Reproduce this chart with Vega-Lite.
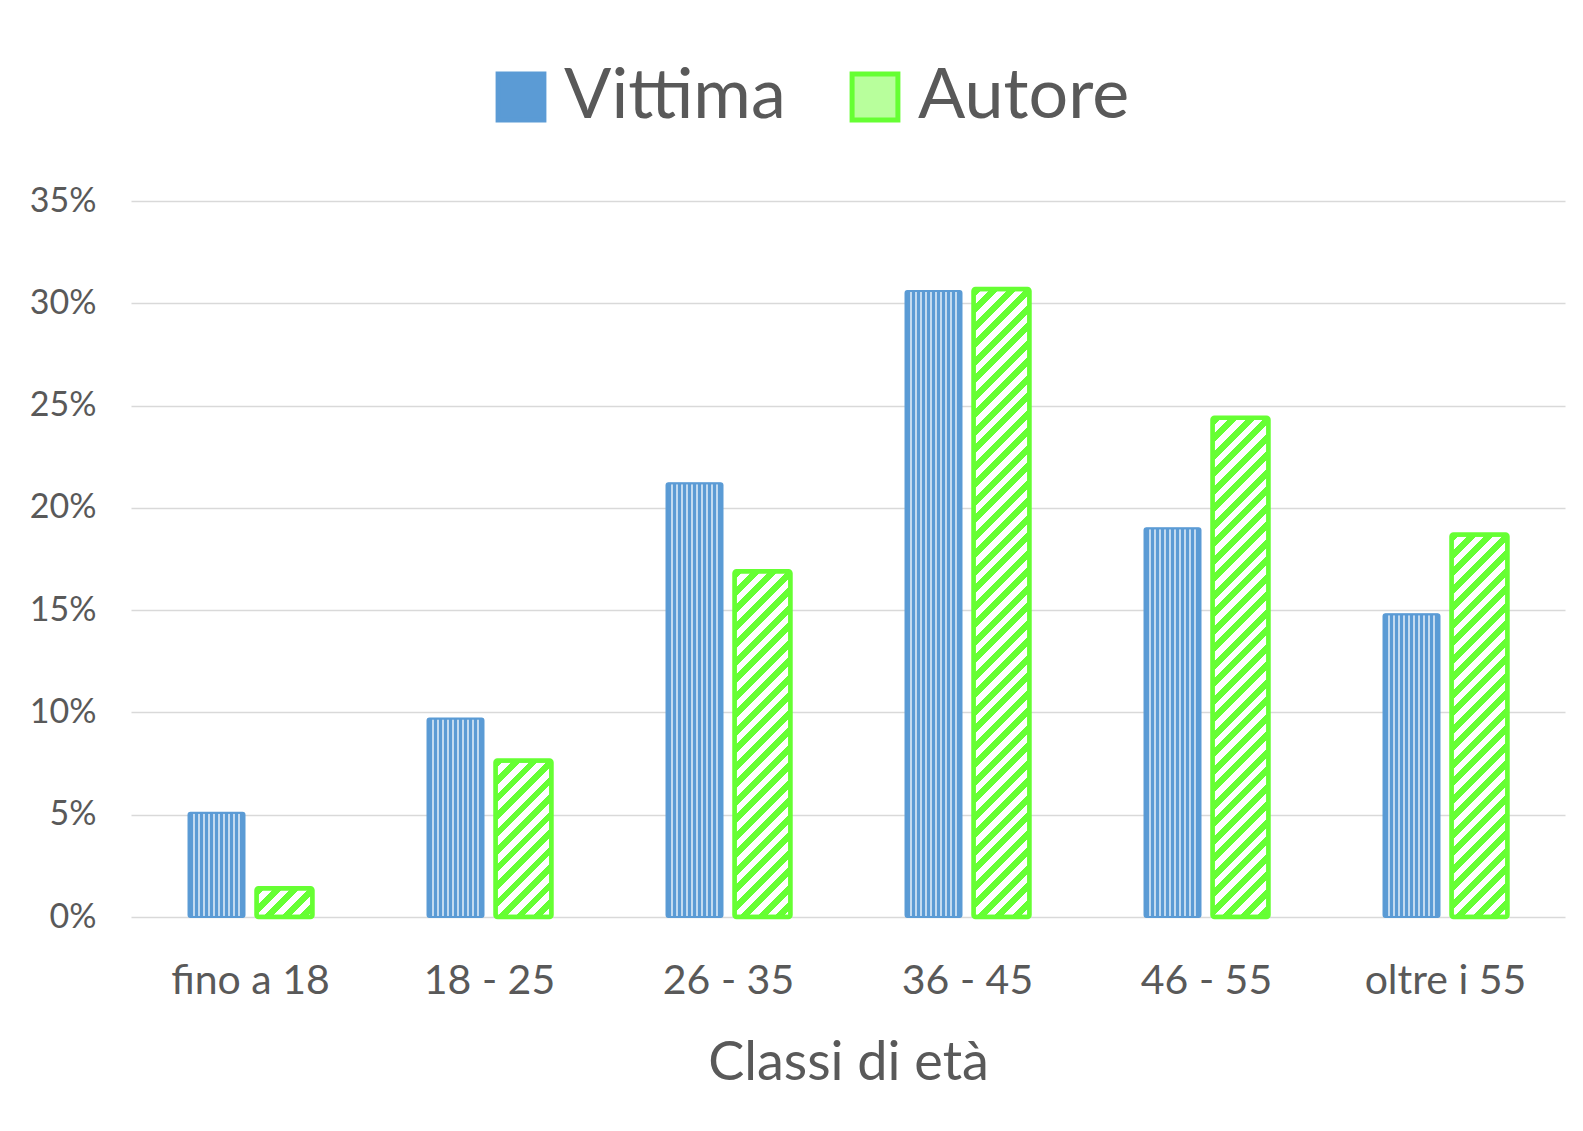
{
  "$schema": "https://vega.github.io/schema/vega-lite/v6.json",
  "width": 1434,
  "height": 716,
  "autosize": {"type": "none"},
  "padding": {"left": 131, "top": 201, "right": 18, "bottom": 214},
  "background": "white",
  "config": {"view": {"stroke": null}, "font": "Lato"},
  "params": [
    {"name": "gstops", "value": [
      {"offset":0,"color":"#66ff33"},{"offset":0.0125,"color":"#66ff33"},{"offset":0.0125,"color":"#ffffff"},{"offset":0.025,"color":"#ffffff"},
      {"offset":0.025,"color":"#66ff33"},{"offset":0.0375,"color":"#66ff33"},{"offset":0.0375,"color":"#ffffff"},{"offset":0.05,"color":"#ffffff"},
      {"offset":0.05,"color":"#66ff33"},{"offset":0.0625,"color":"#66ff33"},{"offset":0.0625,"color":"#ffffff"},{"offset":0.075,"color":"#ffffff"},
      {"offset":0.075,"color":"#66ff33"},{"offset":0.0875,"color":"#66ff33"},{"offset":0.0875,"color":"#ffffff"},{"offset":0.1,"color":"#ffffff"},
      {"offset":0.1,"color":"#66ff33"},{"offset":0.1125,"color":"#66ff33"},{"offset":0.1125,"color":"#ffffff"},{"offset":0.125,"color":"#ffffff"},
      {"offset":0.125,"color":"#66ff33"},{"offset":0.1375,"color":"#66ff33"},{"offset":0.1375,"color":"#ffffff"},{"offset":0.15,"color":"#ffffff"},
      {"offset":0.15,"color":"#66ff33"},{"offset":0.1625,"color":"#66ff33"},{"offset":0.1625,"color":"#ffffff"},{"offset":0.175,"color":"#ffffff"},
      {"offset":0.175,"color":"#66ff33"},{"offset":0.1875,"color":"#66ff33"},{"offset":0.1875,"color":"#ffffff"},{"offset":0.2,"color":"#ffffff"},
      {"offset":0.2,"color":"#66ff33"},{"offset":0.2125,"color":"#66ff33"},{"offset":0.2125,"color":"#ffffff"},{"offset":0.225,"color":"#ffffff"},
      {"offset":0.225,"color":"#66ff33"},{"offset":0.2375,"color":"#66ff33"},{"offset":0.2375,"color":"#ffffff"},{"offset":0.25,"color":"#ffffff"},
      {"offset":0.25,"color":"#66ff33"},{"offset":0.2625,"color":"#66ff33"},{"offset":0.2625,"color":"#ffffff"},{"offset":0.275,"color":"#ffffff"},
      {"offset":0.275,"color":"#66ff33"},{"offset":0.2875,"color":"#66ff33"},{"offset":0.2875,"color":"#ffffff"},{"offset":0.3,"color":"#ffffff"},
      {"offset":0.3,"color":"#66ff33"},{"offset":0.3125,"color":"#66ff33"},{"offset":0.3125,"color":"#ffffff"},{"offset":0.325,"color":"#ffffff"},
      {"offset":0.325,"color":"#66ff33"},{"offset":0.3375,"color":"#66ff33"},{"offset":0.3375,"color":"#ffffff"},{"offset":0.35,"color":"#ffffff"},
      {"offset":0.35,"color":"#66ff33"},{"offset":0.3625,"color":"#66ff33"},{"offset":0.3625,"color":"#ffffff"},{"offset":0.375,"color":"#ffffff"},
      {"offset":0.375,"color":"#66ff33"},{"offset":0.3875,"color":"#66ff33"},{"offset":0.3875,"color":"#ffffff"},{"offset":0.4,"color":"#ffffff"},
      {"offset":0.4,"color":"#66ff33"},{"offset":0.4125,"color":"#66ff33"},{"offset":0.4125,"color":"#ffffff"},{"offset":0.425,"color":"#ffffff"},
      {"offset":0.425,"color":"#66ff33"},{"offset":0.4375,"color":"#66ff33"},{"offset":0.4375,"color":"#ffffff"},{"offset":0.45,"color":"#ffffff"},
      {"offset":0.45,"color":"#66ff33"},{"offset":0.4625,"color":"#66ff33"},{"offset":0.4625,"color":"#ffffff"},{"offset":0.475,"color":"#ffffff"},
      {"offset":0.475,"color":"#66ff33"},{"offset":0.4875,"color":"#66ff33"},{"offset":0.4875,"color":"#ffffff"},{"offset":0.5,"color":"#ffffff"},
      {"offset":0.5,"color":"#66ff33"},{"offset":0.5125,"color":"#66ff33"},{"offset":0.5125,"color":"#ffffff"},{"offset":0.525,"color":"#ffffff"},
      {"offset":0.525,"color":"#66ff33"},{"offset":0.5375,"color":"#66ff33"},{"offset":0.5375,"color":"#ffffff"},{"offset":0.55,"color":"#ffffff"},
      {"offset":0.55,"color":"#66ff33"},{"offset":0.5625,"color":"#66ff33"},{"offset":0.5625,"color":"#ffffff"},{"offset":0.575,"color":"#ffffff"},
      {"offset":0.575,"color":"#66ff33"},{"offset":0.5875,"color":"#66ff33"},{"offset":0.5875,"color":"#ffffff"},{"offset":0.6,"color":"#ffffff"},
      {"offset":0.6,"color":"#66ff33"},{"offset":0.6125,"color":"#66ff33"},{"offset":0.6125,"color":"#ffffff"},{"offset":0.625,"color":"#ffffff"},
      {"offset":0.625,"color":"#66ff33"},{"offset":0.6375,"color":"#66ff33"},{"offset":0.6375,"color":"#ffffff"},{"offset":0.65,"color":"#ffffff"},
      {"offset":0.65,"color":"#66ff33"},{"offset":0.6625,"color":"#66ff33"},{"offset":0.6625,"color":"#ffffff"},{"offset":0.675,"color":"#ffffff"},
      {"offset":0.675,"color":"#66ff33"},{"offset":0.6875,"color":"#66ff33"},{"offset":0.6875,"color":"#ffffff"},{"offset":0.7,"color":"#ffffff"},
      {"offset":0.7,"color":"#66ff33"},{"offset":0.7125,"color":"#66ff33"},{"offset":0.7125,"color":"#ffffff"},{"offset":0.725,"color":"#ffffff"},
      {"offset":0.725,"color":"#66ff33"},{"offset":0.7375,"color":"#66ff33"},{"offset":0.7375,"color":"#ffffff"},{"offset":0.75,"color":"#ffffff"},
      {"offset":0.75,"color":"#66ff33"},{"offset":0.7625,"color":"#66ff33"},{"offset":0.7625,"color":"#ffffff"},{"offset":0.775,"color":"#ffffff"},
      {"offset":0.775,"color":"#66ff33"},{"offset":0.7875,"color":"#66ff33"},{"offset":0.7875,"color":"#ffffff"},{"offset":0.8,"color":"#ffffff"},
      {"offset":0.8,"color":"#66ff33"},{"offset":0.8125,"color":"#66ff33"},{"offset":0.8125,"color":"#ffffff"},{"offset":0.825,"color":"#ffffff"},
      {"offset":0.825,"color":"#66ff33"},{"offset":0.8375,"color":"#66ff33"},{"offset":0.8375,"color":"#ffffff"},{"offset":0.85,"color":"#ffffff"},
      {"offset":0.85,"color":"#66ff33"},{"offset":0.8625,"color":"#66ff33"},{"offset":0.8625,"color":"#ffffff"},{"offset":0.875,"color":"#ffffff"},
      {"offset":0.875,"color":"#66ff33"},{"offset":0.8875,"color":"#66ff33"},{"offset":0.8875,"color":"#ffffff"},{"offset":0.9,"color":"#ffffff"},
      {"offset":0.9,"color":"#66ff33"},{"offset":0.9125,"color":"#66ff33"},{"offset":0.9125,"color":"#ffffff"},{"offset":0.925,"color":"#ffffff"},
      {"offset":0.925,"color":"#66ff33"},{"offset":0.9375,"color":"#66ff33"},{"offset":0.9375,"color":"#ffffff"},{"offset":0.95,"color":"#ffffff"},
      {"offset":0.95,"color":"#66ff33"},{"offset":0.9625,"color":"#66ff33"},{"offset":0.9625,"color":"#ffffff"},{"offset":0.975,"color":"#ffffff"},
      {"offset":0.975,"color":"#66ff33"},{"offset":0.9875,"color":"#66ff33"},{"offset":0.9875,"color":"#ffffff"},{"offset":1,"color":"#ffffff"}
    ]}
  ],
  "data": {"values": [
    {"classe": "fino a 18", "serie": "Vittima", "pct": 0.051},
    {"classe": "fino a 18", "serie": "Autore", "pct": 0.014},
    {"classe": "18 - 25", "serie": "Vittima", "pct": 0.097},
    {"classe": "18 - 25", "serie": "Autore", "pct": 0.0765},
    {"classe": "26 - 35", "serie": "Vittima", "pct": 0.212},
    {"classe": "26 - 35", "serie": "Autore", "pct": 0.169},
    {"classe": "36 - 45", "serie": "Vittima", "pct": 0.306},
    {"classe": "36 - 45", "serie": "Autore", "pct": 0.307},
    {"classe": "46 - 55", "serie": "Vittima", "pct": 0.190},
    {"classe": "46 - 55", "serie": "Autore", "pct": 0.244},
    {"classe": "oltre i 55", "serie": "Vittima", "pct": 0.148},
    {"classe": "oltre i 55", "serie": "Autore", "pct": 0.187}
  ]},
  "encoding": {
    "x": {
      "field": "classe", "type": "nominal",
      "sort": ["fino a 18", "18 - 25", "26 - 35", "36 - 45", "46 - 55", "oltre i 55"],
      "scale": {"paddingInner": 0, "paddingOuter": 0},
      "axis": {"title": "Classi di età", "labelAngle": 0, "domain": false, "ticks": false,
        "labelFontSize": 41, "labelColor": "#595959", "labelPadding": 44,
        "titleFontSize": 54, "titleColor": "#595959", "titleFontWeight": "normal", "titlePadding": 35}
    },
    "xOffset": {
      "field": "serie", "type": "nominal", "sort": ["Vittima", "Autore"],
      "scale": {"domain": ["Vittima", "Autore"], "paddingInner": 0.1765, "paddingOuter": 0.846}
    },
    "y": {
      "field": "pct", "type": "quantitative",
      "scale": {"domain": [0, 0.35], "nice": false},
      "axis": {"title": null, "values": [0, 0.05, 0.1, 0.15, 0.2, 0.25, 0.3, 0.35], "format": ".0%",
        "domain": false, "ticks": false, "labelFontSize": 34, "labelColor": "#595959", "labelPadding": 35,
        "gridColor": "#d9d9d9", "gridWidth": 1.5}
    }
  },
  "layer": [
    {
      "mark": {"type": "bar", "cornerRadius": 2},
      "encoding": {
        "fill": {"field": "serie", "type": "nominal", "sort": ["Vittima", "Autore"],
          "scale": {"domain": ["Vittima", "Autore"], "range": ["#5b9bd5", "#b8ff9c"]},
          "legend": {"orient": "none", "legendX": 355, "legendY": -139, "direction": "horizontal", "title": null,
            "labelFontSize": 70, "labelColor": "#595959", "labelLimit": 0, "symbolType": "square", "symbolSize": 2100,
            "symbolStrokeWidth": 5, "labelOffset": 8, "columnPadding": 54}},
        "stroke": {"field": "serie", "type": "nominal", "sort": ["Vittima", "Autore"],
          "scale": {"domain": ["Vittima", "Autore"], "range": ["#5b9bd5", "#66ff33"]},
          "legend": {"orient": "none", "legendX": 355, "legendY": -139, "direction": "horizontal", "title": null,
            "labelFontSize": 70, "labelColor": "#595959", "labelLimit": 0, "symbolType": "square", "symbolSize": 2100,
            "symbolStrokeWidth": 5, "labelOffset": 8, "columnPadding": 54}}
      }
    },
    {
      "transform": [{"filter": "datum.serie === 'Vittima'"}],
      "mark": {"type": "bar", "cornerRadius": 2, "stroke": "#5b9bd5", "strokeWidth": 2, "fill": {
        "gradient": "linear", "x1": 0, "y1": 0, "x2": 1, "y2": 0,
        "stops": [
          {"offset": 0, "color": "#5b9bd5"},
          {"offset": 0.0804, "color": "#5b9bd5"}, {"offset": 0.0804, "color": "#c2daf0"}, {"offset": 0.1161, "color": "#c2daf0"}, {"offset": 0.1161, "color": "#5b9bd5"},
          {"offset": 0.1696, "color": "#5b9bd5"}, {"offset": 0.1696, "color": "#c2daf0"}, {"offset": 0.2054, "color": "#c2daf0"}, {"offset": 0.2054, "color": "#5b9bd5"},
          {"offset": 0.2589, "color": "#5b9bd5"}, {"offset": 0.2589, "color": "#c2daf0"}, {"offset": 0.2946, "color": "#c2daf0"}, {"offset": 0.2946, "color": "#5b9bd5"},
          {"offset": 0.3482, "color": "#5b9bd5"}, {"offset": 0.3482, "color": "#c2daf0"}, {"offset": 0.3839, "color": "#c2daf0"}, {"offset": 0.3839, "color": "#5b9bd5"},
          {"offset": 0.4375, "color": "#5b9bd5"}, {"offset": 0.4375, "color": "#c2daf0"}, {"offset": 0.4732, "color": "#c2daf0"}, {"offset": 0.4732, "color": "#5b9bd5"},
          {"offset": 0.5268, "color": "#5b9bd5"}, {"offset": 0.5268, "color": "#c2daf0"}, {"offset": 0.5625, "color": "#c2daf0"}, {"offset": 0.5625, "color": "#5b9bd5"},
          {"offset": 0.6161, "color": "#5b9bd5"}, {"offset": 0.6161, "color": "#c2daf0"}, {"offset": 0.6518, "color": "#c2daf0"}, {"offset": 0.6518, "color": "#5b9bd5"},
          {"offset": 0.7054, "color": "#5b9bd5"}, {"offset": 0.7054, "color": "#c2daf0"}, {"offset": 0.7411, "color": "#c2daf0"}, {"offset": 0.7411, "color": "#5b9bd5"},
          {"offset": 0.7946, "color": "#5b9bd5"}, {"offset": 0.7946, "color": "#c2daf0"}, {"offset": 0.8304, "color": "#c2daf0"}, {"offset": 0.8304, "color": "#5b9bd5"},
          {"offset": 0.8839, "color": "#5b9bd5"}, {"offset": 0.8839, "color": "#c2daf0"}, {"offset": 0.9196, "color": "#c2daf0"}, {"offset": 0.9196, "color": "#5b9bd5"},
          {"offset": 1, "color": "#5b9bd5"}
        ]}}
    },
    {
      "transform": [{"filter": "datum.serie === 'Autore'"}],
      "mark": {"type": "bar", "cornerRadius": 2, "stroke": "#66ff33", "strokeWidth": 4.5,
        "fill": {"expr": "{gradient: 'linear', x1: 0, y1: 0, x2: bandwidth('xOffset') * 700 / (pow(bandwidth('xOffset'), 2) + pow(scale('y', 0) - scale('y', datum.pct), 2)), y2: (scale('y', 0) - scale('y', datum.pct)) * 700 / (pow(bandwidth('xOffset'), 2) + pow(scale('y', 0) - scale('y', datum.pct), 2)), stops: gstops}"}}
    }
  ]
}
